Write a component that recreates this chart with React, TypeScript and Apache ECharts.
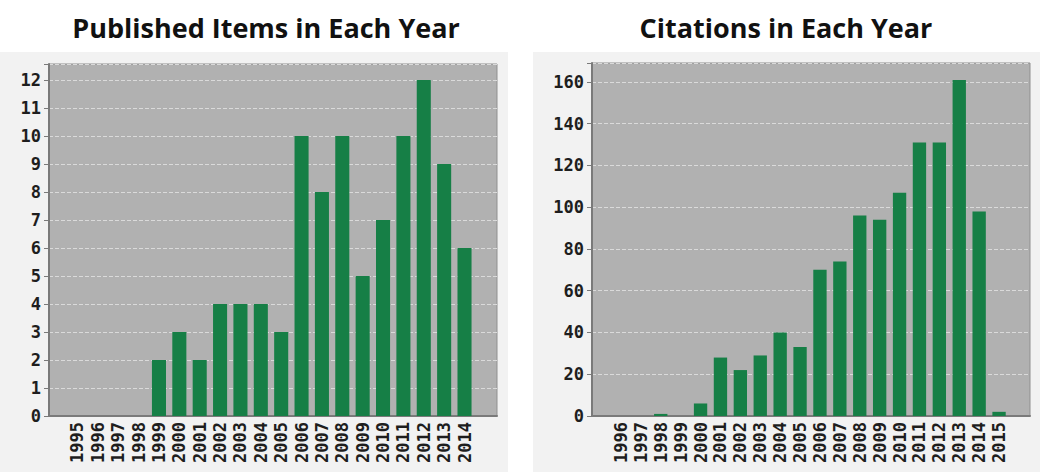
import React, { useEffect, useRef } from "react";
import * as echarts from "echarts";

const pubYears = ["1995","1996","1997","1998","1999","2000","2001","2002","2003","2004","2005","2006","2007","2008","2009","2010","2011","2012","2013","2014"];
const pubCounts = [0,0,0,0,2,3,2,4,4,4,3,10,8,10,5,7,10,12,9,6];
const citYears = ["1996","1997","1998","1999","2000","2001","2002","2003","2004","2005","2006","2007","2008","2009","2010","2011","2012","2013","2014","2015"];
const citCounts = [0,0,1,0,6,28,22,29,40,33,70,74,96,94,107,131,131,161,98,2];
const pubTitle = "Published Items in Each Year";
const citTitle = "Citations in Each Year";
const pubInterval = 1;
const citInterval = 20;
const pubMax = 12.57;
const citMax = 169.1;

const BAR = "#167f46";
const labelFont = { fontFamily: "DejaVu Sans Mono", fontWeight: "bold" as const, fontSize: 17, color: "#1e1e1e" };

export default function App() {
  const ref = useRef<HTMLDivElement>(null);
  useEffect(() => {
    const chart = echarts.init(ref.current!, null, { renderer: "svg" });
    const plotGrid = (left: number, width: number, top: number, height: number) => ({
      left, width, top, height, show: true, backgroundColor: "#b1b1b1", borderColor: "#8f8f8f", borderWidth: 1, containLabel: false,
    });
    const barGrid = (left: number, width: number, top: number, height: number) => ({ left, width, top, height, show: false });
    const yPlot = (gi: number, max: number, interval: number) => ({
      type: "value", gridIndex: gi, min: 0, max, interval,
      axisLine: { show: true, lineStyle: { color: "#7a7a7a", width: 2 } },
      axisTick: { show: true, length: 5, lineStyle: { color: "#7a7a7a" } },
      axisLabel: { ...labelFont, margin: 8, formatter: (v: number) => (Math.abs(v / interval - Math.round(v / interval)) < 1e-6 ? String(Math.round(v)) : "") },
      splitLine: { show: true, lineStyle: { color: "#dadada", type: [4, 2], width: 1 } },
    });
    const yHidden = (gi: number, max: number) => ({ type: "value", gridIndex: gi, min: 0, max, show: false, splitLine: { show: false } });
    const xPlot = (gi: number) => ({
      type: "value", gridIndex: gi, min: 0, max: 1,
      axisLine: { show: true, onZero: false, lineStyle: { color: "#7a7a7a", width: 2 } },
      axisTick: { show: false }, axisLabel: { show: false }, splitLine: { show: false },
    });
    const xCat = (gi: number, data: string[]) => ({
      type: "category", gridIndex: gi, data,
      axisLine: { show: false }, axisTick: { show: false },
      axisLabel: { ...labelFont, rotate: 90, interval: 0, margin: 6 },
    });
    chart.setOption({
      animation: false,
      backgroundColor: "#ffffff",
      graphic: [
        { type: "rect", z: -10, shape: { x: 0, y: 52, width: 508, height: 420 }, style: { fill: "#f2f2f2" } },
        { type: "rect", z: -10, shape: { x: 533, y: 52, width: 507, height: 420 }, style: { fill: "#f2f2f2" } },
        { type: "text", x: 266, y: 27, style: { text: pubTitle, textAlign: "center", textVerticalAlign: "middle", fontFamily: "Open Sans", fontWeight: "bold", fontSize: 27, fill: "#111" } },
        { type: "text", x: 786, y: 27, style: { text: citTitle, textAlign: "center", textVerticalAlign: "middle", fontFamily: "Open Sans", fontWeight: "bold", fontSize: 27, fill: "#111" } },
      ],
      grid: [
        plotGrid(49, 448, 64, 352),
        barGrid(67.3, 407.4, 64, 352),
        plotGrid(592, 438, 63, 353),
        barGrid(611, 398, 63, 353),
      ],
      xAxis: [xPlot(0), xCat(1, pubYears), xPlot(2), xCat(3, citYears)],
      yAxis: [yPlot(0, pubMax, pubInterval), yHidden(1, pubMax), yPlot(2, citMax, citInterval), yHidden(3, citMax)],
      series: [
        { type: "bar", xAxisIndex: 1, yAxisIndex: 1, data: pubCounts, barCategoryGap: "31%", itemStyle: { color: BAR } },
        { type: "bar", xAxisIndex: 3, yAxisIndex: 3, data: citCounts, barCategoryGap: "33%", itemStyle: { color: BAR } },
      ],
    });
    return () => chart.dispose();
  }, []);
  return <div ref={ref} style={{ position: "absolute", left: 0, top: 0, width: 1045, height: 472 }} />;
}
